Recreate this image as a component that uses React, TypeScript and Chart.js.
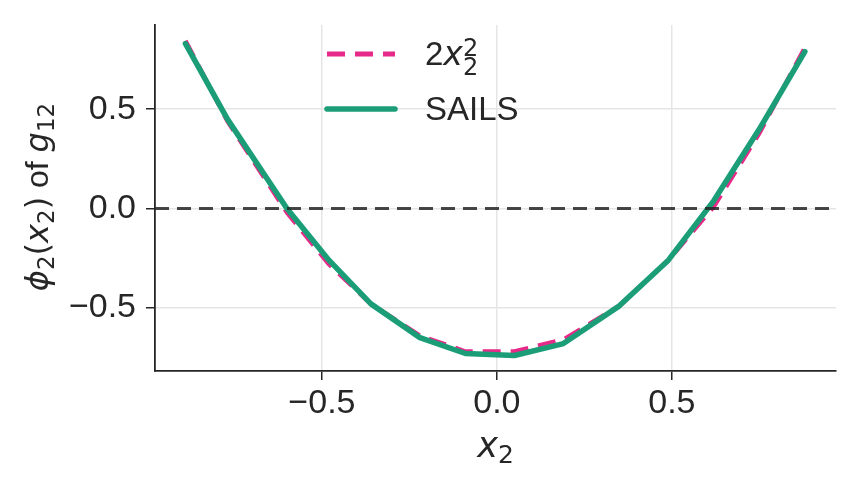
import { useEffect, useRef } from "react";
import { Chart, registerables } from "chart.js";

Chart.register(...registerables);

// values
const xValues = [-0.89, -0.77, -0.6, -0.48, -0.36, -0.22, -0.09, 0.05, 0.19, 0.35, 0.49, 0.62, 0.75, 0.88];
const sailsValues = [0.83, 0.45, 0.0, -0.26, -0.48, -0.65, -0.73, -0.74, -0.68, -0.49, -0.26, 0.04, 0.4, 0.79];
const quadValues = [0.845, 0.44, -0.02, -0.28, -0.48, -0.64, -0.72, -0.72, -0.66, -0.49, -0.26, 0.01, 0.38, 0.81];
const xTicks = [-0.5, 0, 0.5];
const yTicks = [-0.5, 0, 0.5];

const FONT = "'Liberation Sans', Arial, sans-serif";
const MATH = "'DejaVu Sans', sans-serif";
const PINK = "#e7298a";
const GREEN = "#1b9e77";
const TEXT = "#262626";

type Part = { t: string; italic?: boolean; size: number; dy?: number; stack?: boolean; fam?: string };

const fmt = (v: number) => (v < 0 ? "\u2212" : "") + Math.abs(v).toFixed(1);

function partFont(p: Part) {
  return `${p.italic ? "italic " : ""}${p.size}px ${p.fam ?? MATH}`;
}

function measure(ctx: CanvasRenderingContext2D, parts: Part[]) {
  let w = 0;
  let last = 0;
  for (const p of parts) {
    ctx.font = partFont(p);
    const pw = ctx.measureText(p.t).width;
    if (p.stack) {
      w = w - last + Math.max(last, pw);
    } else {
      w += pw;
      last = pw;
    }
  }
  return w;
}

function drawParts(ctx: CanvasRenderingContext2D, parts: Part[], x: number, y: number) {
  let cx = x;
  let prevX = x;
  for (const p of parts) {
    ctx.font = partFont(p);
    const pw = ctx.measureText(p.t).width;
    if (p.stack) {
      ctx.fillText(p.t, prevX, y + (p.dy ?? 0));
      cx = Math.max(cx, prevX + pw);
    } else {
      ctx.fillText(p.t, cx, y + (p.dy ?? 0));
      prevX = cx;
      cx += pw;
    }
  }
}

const yTitle: Part[] = [
  { t: "\u03d5", italic: true, size: 32 },
  { t: "2", size: 23, dy: 6 },
  { t: "(", size: 32 },
  { t: "x", italic: true, size: 32 },
  { t: "2", size: 23, dy: 6 },
  { t: ")", size: 32 },
  { t: " of ", size: 32, fam: FONT },
  { t: "g", italic: true, size: 32 },
  { t: "12", size: 23, dy: 6 },
];
const xTitle: Part[] = [
  { t: "x", italic: true, size: 35 },
  { t: "2", size: 25, dy: 6 },
];
const quadLabel: Part[] = [
  { t: "2", size: 33, fam: FONT },
  { t: "x", italic: true, size: 33 },
  { t: "2", size: 24, dy: -9 },
  { t: "2", size: 24, dy: 10, stack: true },
];
const sailsLabel: Part[] = [{ t: "SAILS", size: 33, fam: FONT }];

const decorPlugin = {
  id: "decor",
  afterDatasetsDraw(chart: any) {
    const { ctx, chartArea, scales } = chart;
    const y0 = scales.y.getPixelForValue(0);
    ctx.save();
    ctx.strokeStyle = "rgba(38,38,38,0.85)";
    ctx.lineWidth = 3;
    ctx.setLineDash([14, 8]);
    ctx.beginPath();
    ctx.moveTo(chartArea.left, y0);
    ctx.lineTo(chartArea.right, y0);
    ctx.stroke();

    // legend
    ctx.lineCap = "butt";
    ctx.setLineDash([18, 10]);
    ctx.strokeStyle = PINK;
    ctx.lineWidth = 5;
    ctx.beginPath();
    ctx.moveTo(327, 54);
    ctx.lineTo(395, 54);
    ctx.stroke();
    ctx.setLineDash([]);
    ctx.lineCap = "round";
    ctx.strokeStyle = GREEN;
    ctx.lineWidth = 5.5;
    ctx.beginPath();
    ctx.moveTo(327, 109);
    ctx.lineTo(395, 109);
    ctx.stroke();

    ctx.fillStyle = TEXT;
    ctx.textBaseline = "alphabetic";
    ctx.textAlign = "left";
    drawParts(ctx, quadLabel, 425, 65);
    drawParts(ctx, sailsLabel, 425, 120);

    // axis titles
    const xw = measure(ctx, xTitle);
    drawParts(ctx, xTitle, (chartArea.left + chartArea.right) / 2 - xw / 2, 457);

    const yw = measure(ctx, yTitle);
    ctx.translate(48, 197);
    ctx.rotate(-Math.PI / 2);
    drawParts(ctx, yTitle, -yw / 2, 0);
    ctx.restore();
  },
};

const App = () => {
  const canvasRef = useRef<HTMLCanvasElement | null>(null);

  useEffect(() => {
    document.body.style.margin = "0";
    const ctx = canvasRef.current.getContext("2d");
    const chart = new Chart(ctx, {
      type: "line",
      data: {
        datasets: [
          {
            label: "2x2^2",
            data: xValues.map((x, i) => ({ x, y: quadValues[i] })),
            borderColor: PINK,
            borderWidth: 4.5,
            borderDash: [18, 10],
            pointRadius: 0,
            fill: false,
            order: 2,
          },
          {
            label: "SAILS",
            data: xValues.map((x, i) => ({ x, y: sailsValues[i] })),
            borderColor: GREEN,
            borderWidth: 5.5,
            borderCapStyle: "round",
            borderJoinStyle: "round",
            pointRadius: 0,
            fill: false,
            order: 1,
          },
        ],
      },
      options: {
        animation: false,
        responsive: true,
        maintainAspectRatio: false,
        layout: { padding: { top: 25, right: 21, left: 0, bottom: 0 } },
        plugins: { legend: { display: false }, tooltip: { enabled: false } },
        scales: {
          x: {
            type: "linear",
            min: -0.977,
            max: 0.969,
            afterBuildTicks: (s: any) => {
              s.ticks = xTicks.map((value) => ({ value }));
            },
            afterFit: (s: any) => {
              s.height = 117;
              s.paddingLeft = 0;
              s.paddingRight = 0;
            },
            ticks: {
              callback: (v: any) => fmt(Number(v)),
              color: TEXT,
              font: { family: FONT, size: 34 },
              padding: 3,
              maxRotation: 0,
            },
            grid: { color: "#e5e5e5", lineWidth: 1.5, tickColor: TEXT, tickLength: 9, tickWidth: 1.5 },
            border: { display: true, color: TEXT, width: 1.8 },
          },
          y: {
            type: "linear",
            min: -0.818,
            max: 0.924,
            afterBuildTicks: (s: any) => {
              s.ticks = yTicks.map((value) => ({ value }));
            },
            afterFit: (s: any) => {
              s.width = 155;
              s.paddingTop = 0;
              s.paddingBottom = 0;
            },
            ticks: {
              callback: (v: any) => fmt(Number(v)),
              color: TEXT,
              font: { family: FONT, size: 34 },
              padding: 10,
            },
            grid: { color: "#e5e5e5", lineWidth: 1.5, tickColor: TEXT, tickLength: 9, tickWidth: 1.5 },
            border: { display: true, color: TEXT, width: 1.8 },
          },
        },
      },
      plugins: [decorPlugin],
    });

    return () => {
      chart.destroy();
    };
  }, []);

  return (
    <div style={{ width: 857, height: 488, position: "relative" }}>
      <canvas ref={canvasRef} />
    </div>
  );
};

export default App;
